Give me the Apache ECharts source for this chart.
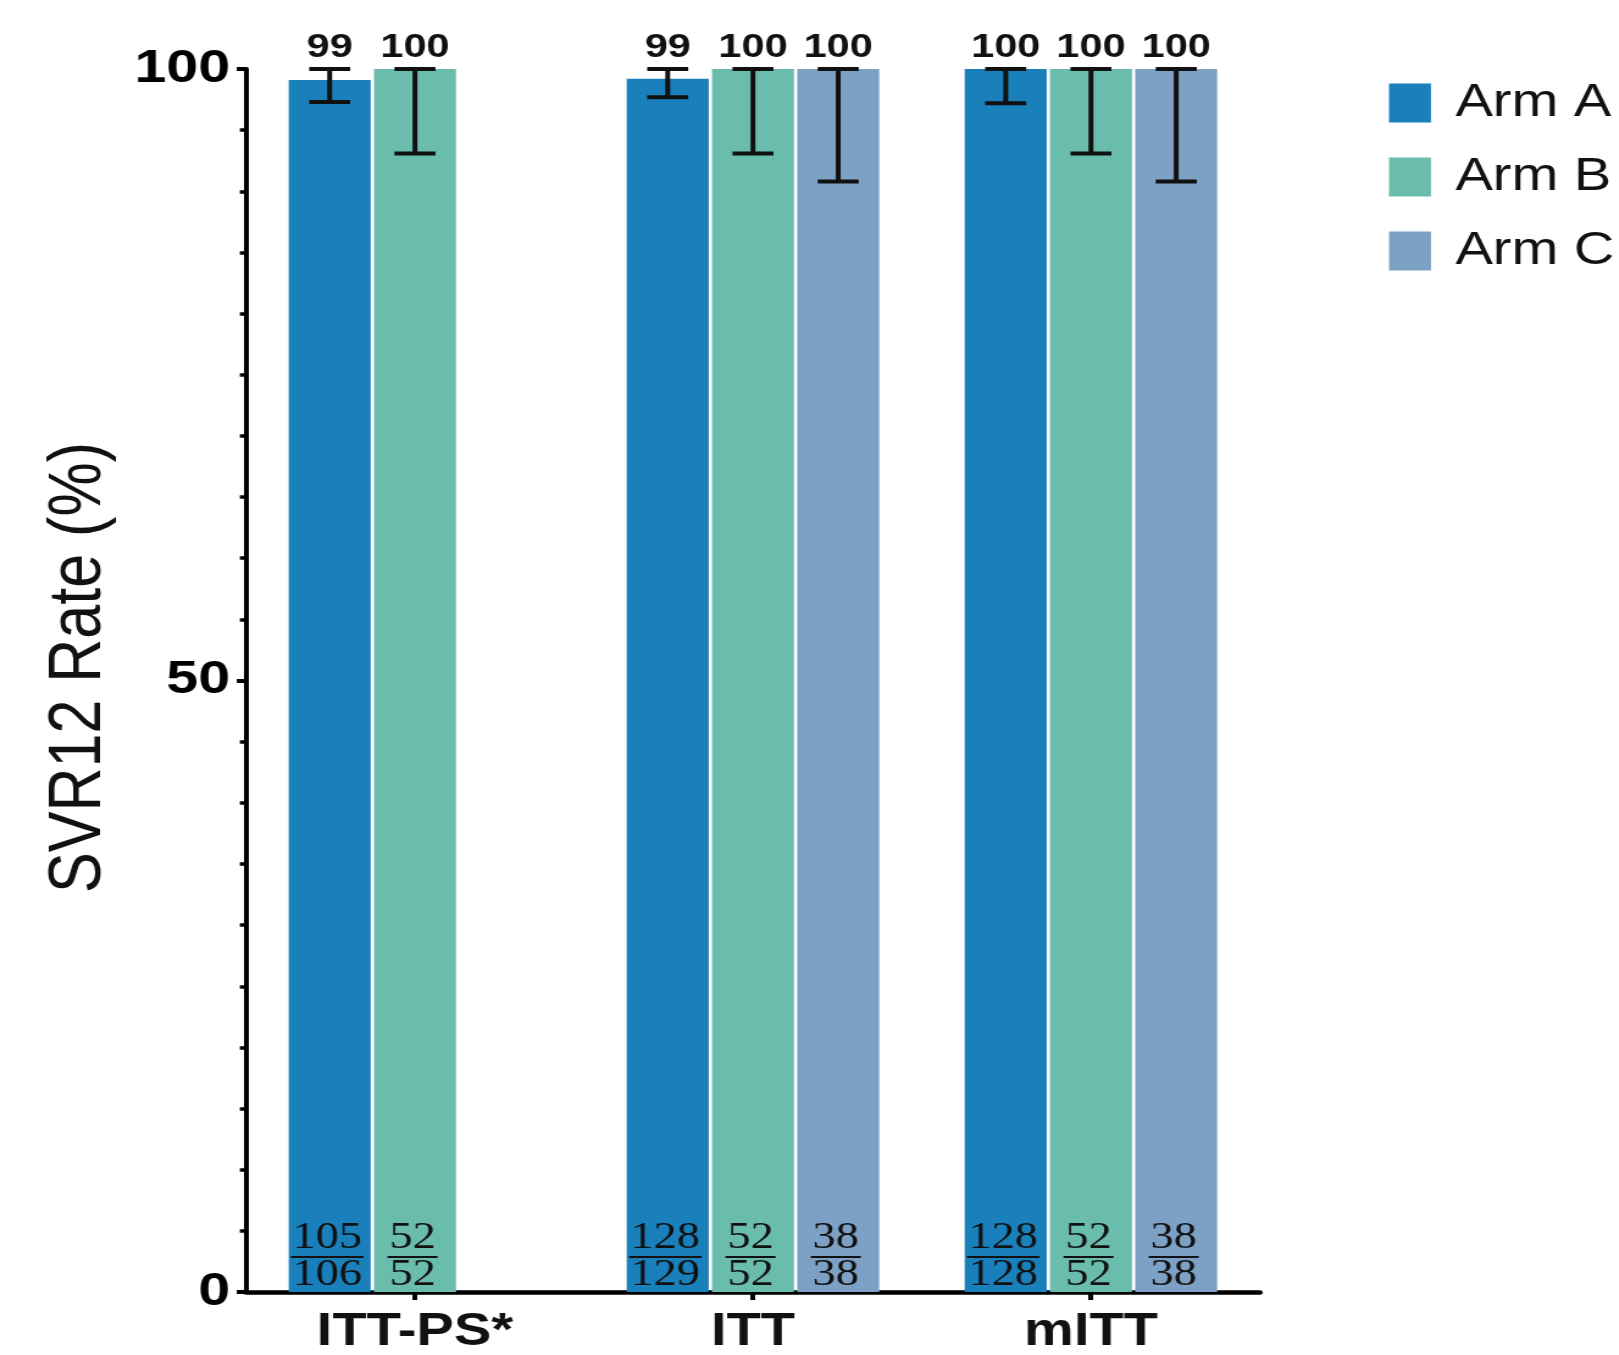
<!DOCTYPE html>
<html>
<head>
<meta charset="utf-8">
<title>SVR12 Rate by Arm</title>
<script src="https://cdn.jsdelivr.net/npm/echarts@6/dist/echarts.min.js"></script>
<style>
  html, body { margin: 0; padding: 0; background: #fff; overflow: hidden; }
  #wrap { width: 1619px; height: 1355px; overflow: hidden; }
  #chart { height: 1355px; transform-origin: 0 0; }
</style>
</head>
<body>
<div id="wrap"><div id="chart"></div></div>
<script>
// Population categories and arms
const categories = ['ITT-PS*', 'ITT', 'mITT'];
const arms = ['Arm A', 'Arm B', 'Arm C'];

// SVR12 rate (%) per arm, per population (null = not reported)
const rateA = [99.1, 99.2, 100];
const rateB = [100, 100, 100];
const rateC = [null, 100, 100];

// 95% CI lower / upper bounds (%)
const lowA = [97.3, 97.7, 97.2];
const lowB = [93.1, 93.1, 93.1];
const lowC = [null, 90.8, 90.8];
const highA = [100, 100, 100];
const highB = [100, 100, 100];
const highC = [null, 100, 100];

// Responders / patients
const numA = [105, 128, 128];
const denA = [106, 129, 128];
const numB = [52, 52, 52];
const denB = [52, 52, 52];
const numC = [null, 38, 38];
const denC = [null, 38, 38];

// Y-axis
const yMin = 0, yMax = 100, yStep = 50;

const colors = ['#1a80bb', '#6abcad', '#7da0c5'];

// The whole figure is drawn horizontally widened
const SX = 1.22;
const W = 1619 / SX;
const chartEl = document.getElementById('chart');
chartEl.style.width = W + 'px';
chartEl.style.transform = 'scaleX(' + SX + ')';

const BAR_W = 67.2;
const BAR_GAP = 0.04;
const PITCH = BAR_W * (1 + BAR_GAP);
const CAP = 33.6;
const SANS = '"Liberation Sans", Arial, Helvetica, sans-serif';
const SERIF = '"Liberation Serif", "Times New Roman", serif';

const rates = [rateA, rateB, rateC];
const lows = [lowA, lowB, lowC];
const highs = [highA, highB, highC];
const nums = [numA, numB, numC];
const dens = [denA, denB, denC];

function errorData(i) {
  const out = [];
  categories.forEach((c, k) => {
    if (rates[i][k] != null) out.push([k, lows[i][k], highs[i][k], rates[i][k]]);
  });
  return out;
}
function fracData(i) {
  const out = [];
  categories.forEach((c, k) => {
    if (nums[i][k] != null) out.push([k, nums[i][k], dens[i][k]]);
  });
  return out;
}

function errorRender(i) {
  return function (params, api) {
    const k = api.value(0);
    const top = api.coord([k, api.value(2)]);
    const bot = api.coord([k, api.value(1)]);
    const x = top[0] + (i - 1) * PITCH;
    const h = CAP / 2;
    const st = { stroke: '#111', lineWidth: 4, lineCap: 'butt' };
    return {
      type: 'group',
      children: [
        { type: 'line', shape: { x1: x, y1: top[1], x2: x, y2: bot[1] }, style: st },
        { type: 'line', shape: { x1: x - h, y1: top[1], x2: x + h, y2: top[1] }, style: st },
        { type: 'line', shape: { x1: x - h, y1: bot[1], x2: x + h, y2: bot[1] }, style: st },
        {
          type: 'text', x: x, y: top[1] - 21,
          style: {
            text: String(Math.round(api.value(3))),
            fill: '#111', font: 'bold 34px ' + SANS,
            align: 'center', verticalAlign: 'middle'
          }
        }
      ]
    };
  };
}

function fracRender(i) {
  return function (params, api) {
    const k = api.value(0);
    const n = api.value(1), d = api.value(2);
    const base = api.coord([k, 0]);
    const x = base[0] + (i - 1) * PITCH - 2;
    const digits = Math.max(String(n).length, String(d).length);
    const lw = digits * 18.5 + 4;
    const font = '38px ' + SERIF;
    return {
      type: 'group',
      children: [
        { type: 'text', x: x, y: base[1] - 54, style: { text: String(n), fill: '#111', font: font, align: 'center', verticalAlign: 'middle' } },
        { type: 'line', shape: { x1: x - lw / 2, y1: base[1] - 35, x2: x + lw / 2, y2: base[1] - 35 }, style: { stroke: '#111', lineWidth: 2 } },
        { type: 'text', x: x, y: base[1] - 17, style: { text: String(d), fill: '#111', font: font, align: 'center', verticalAlign: 'middle' } }
      ]
    };
  };
}

const series = [];
arms.forEach((name, i) => {
  series.push({
    name: name,
    type: 'bar',
    data: rates[i],
    barWidth: BAR_W,
    barGap: (BAR_GAP * 100) + '%',
    itemStyle: { color: colors[i] },
    emphasis: { disabled: true },
    z: 2
  });
});
arms.forEach((name, i) => {
  series.push({
    name: name + ' 95% CI',
    type: 'custom',
    data: errorData(i),
    renderItem: errorRender(i),
    clip: false,
    z: 4,
    silent: true
  });
  series.push({
    name: name + ' n/N',
    type: 'custom',
    data: fracData(i),
    renderItem: fracRender(i),
    clip: false,
    z: 4,
    silent: true
  });
});

const chart = echarts.init(chartEl, null, { renderer: 'canvas' });
chart.setOption({
  animation: false,
  backgroundColor: '#fff',
  grid: { left: 201.6, right: W - 1032.8, top: 69, bottom: 62, containLabel: false },
  legend: {
    data: arms,
    orient: 'vertical',
    left: 1138.5,
    top: 80,
    itemWidth: 34.4,
    itemHeight: 39,
    itemGap: 28,
    icon: 'rect',
    selectedMode: false,
    padding: 0,
    textStyle: { fontSize: 46, color: '#111', fontFamily: SANS, padding: [0, 0, 0, 15] }
  },
  xAxis: {
    type: 'category',
    data: categories,
    axisLine: { show: true, lineStyle: { color: '#000', width: 4.5 } },
    axisTick: { show: true, alignWithLabel: true, length: 8, lineStyle: { color: '#000', width: 4 } },
    axisLabel: { fontSize: 46, fontWeight: 'bold', color: '#111', fontFamily: SANS, margin: 17 },
    splitLine: { show: false }
  },
  yAxis: {
    type: 'value',
    min: yMin, max: yMax, interval: yStep,
    name: 'SVR12 Rate (%)',
    nameLocation: 'middle',
    nameGap: 106,
    nameRotate: 90,
    nameTextStyle: { fontSize: 61, color: '#111', fontFamily: SANS, padding: [0, 0, 0, 26] },
    axisLine: { show: true, lineStyle: { color: '#000', width: 4 } },
    axisTick: { show: true, length: 7.5, lineStyle: { color: '#000', width: 4 } },
    minorTick: { show: true, splitNumber: 10, length: 5, lineStyle: { color: '#000', width: 3.5 } },
    axisLabel: { fontSize: 47, fontWeight: 'bold', color: '#000', fontFamily: SANS, margin: 13 },
    splitLine: { show: false },
    minorSplitLine: { show: false }
  },
  series: series
});
</script>
</body>
</html>
